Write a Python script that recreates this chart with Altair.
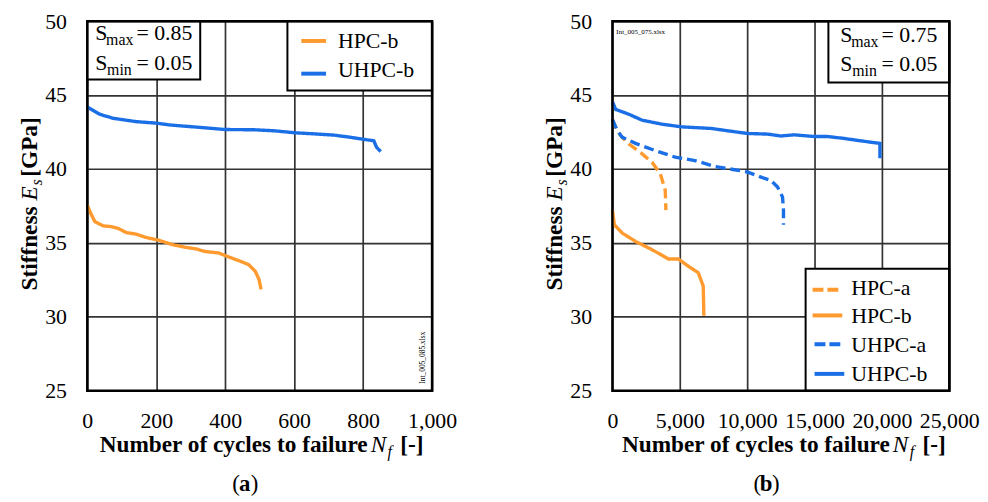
import altair as alt
import pandas as pd

# ---------------- data ----------------
SERIES = ["HPC-a", "HPC-b", "UHPC-a", "UHPC-b"]
ORANGE = "#FF9A2E"
BLUE = "#1A6FE6"

# Panel (a): S_max = 0.85
a_hpc_b_n = [0, 10, 22, 46, 70, 89, 113, 142, 170, 209, 247, 285, 314, 342, 381, 410, 444, 468, 487, 498, 504]
a_hpc_b_e = [37.56, 37.0, 36.44, 36.15, 36.1, 35.99, 35.7, 35.59, 35.37, 35.17, 34.88, 34.7, 34.6, 34.42,
             34.32, 34.05, 33.76, 33.53, 33.09, 32.53, 31.86]
a_uhpc_b_n = [0, 36, 75, 142, 201, 238, 333, 400, 486, 544, 601, 669, 716, 764, 803, 831, 839, 851]
a_uhpc_b_e = [44.19, 43.7, 43.43, 43.2, 43.1, 42.98, 42.8, 42.67, 42.65, 42.58, 42.45, 42.36, 42.29, 42.14,
              42.0, 41.91, 41.47, 41.18]

# Panel (b): S_max = 0.75
b_hpc_a_n = [0, 245, 613, 1225, 2206, 2941, 3554, 3922, 3971]
b_hpc_a_e = [43.36, 42.8, 42.25, 41.69, 41.02, 40.46, 39.68, 38.56, 37.22]
b_hpc_b_n = [0, 147, 735, 1716, 2941, 4167, 4902, 5637, 6373, 6740, 6789]
b_hpc_b_e = [37.22, 36.22, 35.66, 35.1, 34.54, 33.91, 33.91, 33.42, 32.98, 32.08, 30.07]
b_uhpc_a_n = [0, 368, 735, 1716, 3186, 4657, 6127, 7598, 9069, 10049, 11029, 11765, 12255, 12623, 12696, 12696]
b_uhpc_a_e = [43.36, 42.58, 42.14, 41.73, 41.24, 40.8, 40.57, 40.17, 39.95, 39.79, 39.45, 39.23, 38.78,
              38.11, 37.22, 36.22]
b_uhpc_b_n = [0, 245, 1225, 2206, 3676, 5147, 7353, 8578, 10049, 11520, 12500, 13480, 14951, 15931, 17157,
              18382, 19853, 19853]
b_uhpc_b_e = [44.55, 44.03, 43.7, 43.3, 43.03, 42.85, 42.74, 42.58, 42.4, 42.36, 42.23, 42.31, 42.2, 42.2,
              42.07, 41.91, 41.73, 40.73]

y_ticks = [25, 30, 35, 40, 45, 50]
a_x_ticks = [0, 200, 400, 600, 800, 1000]
b_x_ticks = [0, 5000, 10000, 15000, 20000, 25000]


def frame(pairs):
    rows = []
    for name, ns, es in pairs:
        for i, (n, e) in enumerate(zip(ns, es)):
            rows.append({"series": name, "n": n, "e": e, "i": i})
    return pd.DataFrame(rows)


df_a = frame([("HPC-b", a_hpc_b_n, a_hpc_b_e), ("UHPC-b", a_uhpc_b_n, a_uhpc_b_e)])
df_b = frame([("HPC-a", b_hpc_a_n, b_hpc_a_e), ("HPC-b", b_hpc_b_n, b_hpc_b_e),
              ("UHPC-a", b_uhpc_a_n, b_uhpc_a_e), ("UHPC-b", b_uhpc_b_n, b_uhpc_b_e)])

FONT = "Liberation Serif"
H = 373
one = pd.DataFrame({"k": [0]})
DASH = [10, 5]
TS = 23.5  # axis-title font size


def txt(s, x, y, size=22, weight="normal", style="normal", align="left", angle=0, baseline="alphabetic"):
    kw = dict(text=s, font=FONT, fontSize=size, fontWeight=weight, fontStyle=style,
              align=align, baseline=baseline, color="black")
    if angle:
        kw["angle"] = angle
    return alt.Chart(one).mark_text(**kw).encode(x=alt.value(x), y=alt.value(y))


def box(x1, x2, y1, y2):
    return alt.Chart(one).mark_rect(fill="white", stroke="black", strokeWidth=2).encode(
        x=alt.value(x1), x2=alt.value(x2), y=alt.value(y1), y2=alt.value(y2))


def sample(x1, x2, y, color, dashed):
    kw = dict(color=color, strokeWidth=4)
    if dashed:
        kw["strokeDash"] = [11, 4]
    return alt.Chart(one).mark_rule(**kw).encode(x=alt.value(x1), x2=alt.value(x2), y=alt.value(y))


def panel(df, xmax, xticks, W, smax, file_layer, legend_layers, sbox, cap_x, ytitle_x, xt):
    axis_common = dict(grid=True, gridColor="#333333", gridWidth=1.7, ticks=False, domain=False,
                       labelFont=FONT, labelFontSize=22, labelColor="black", title=None)
    lines = alt.Chart(df).mark_line(strokeWidth=3.4).encode(
        x=alt.X("n:Q", scale=alt.Scale(domain=[0, xmax], nice=False, zero=False),
                axis=alt.Axis(values=xticks, format=",.0f", labelPadding=20, labelFlush=False,
                              labelOverlap=False, labelBound=False, **axis_common)),
        y=alt.Y("e:Q", scale=alt.Scale(domain=[25, 50], nice=False, zero=False),
                axis=alt.Axis(values=y_ticks, labelPadding=21, **axis_common)),
        color=alt.Color("series:N", scale=alt.Scale(domain=SERIES, range=[ORANGE, ORANGE, BLUE, BLUE]),
                        legend=None),
        strokeDash=alt.StrokeDash("series:N", scale=alt.Scale(domain=SERIES,
                                  range=[DASH, [1, 0], DASH, [1, 0]]), legend=None),
        order=alt.Order("i:Q"),
    )
    border = alt.Chart(one).mark_rect(fillOpacity=0, stroke="black", strokeWidth=2.5).encode(
        x=alt.value(0), x2=alt.value(W), y=alt.value(0), y2=alt.value(H))

    sx1, sx2, sy2, s_left, sub_left, eq_right, bl1, bl2 = sbox
    s_layers = [
        box(sx1, sx2, 0, sy2),
        txt("S", s_left, bl1), txt("max", sub_left, bl1 + 5, size=16), txt("= " + smax, eq_right, bl1, align="right"),
        txt("S", s_left, bl2), txt("min", sub_left + 1, bl2 + 5, size=16), txt("= 0.05", eq_right, bl2, align="right"),
    ]

    # axis titles
    ty = ytitle_x
    ytitle = [
        txt("Stiffness", ty, 187, size=TS, weight="bold", align="right", angle=270),
        txt("E", ty, 181, size=TS, style="italic", angle=270),
        txt("s", ty + 5, 166, size=16, style="italic", angle=270),
        txt("[GPa]", ty, 157, size=TS, weight="bold", angle=270),
    ]
    xb = H + 62
    xtitle = [
        txt("Number of cycles to failure", xt, xb, size=TS, weight="bold", align="right"),
        txt("N", xt + 3, xb, size=TS, style="italic"),
        txt("f", xt + 20, xb + 5, size=16, style="italic"),
        txt("[-]", xt + 33, xb, size=TS, weight="bold"),
    ]
    cy = H + 101
    caption = [
        txt("(", cap_x - 5, cy, size=23, align="right"),
        txt("a" if smax == "0.85" else "b", cap_x, cy, size=23, weight="bold", align="center"),
        txt(")", cap_x + 6, cy, size=23, align="left"),
    ]
    return alt.layer(lines, *legend_layers, *s_layers, file_layer, border, *ytitle, *xtitle, *caption).properties(
        width=W, height=H)


# panel (a)
WA = 348
leg_a = [
    box(202, WA, 0, 70),
    sample(216, 241, 20, ORANGE, False), txt("HPC-b", 253, 27),
    sample(216, 241, 53, BLUE, False), txt("UHPC-b", 253, 56),
]
file_a = txt("Int_005_085.xlsx", 341, 366, size=7.5, angle=270)
pa = panel(df_a, 1000, a_x_ticks, WA, "0.85", file_a, leg_a,
           (0, 114, 59, 8, 19, 106, 19, 49), 159, -51, 283)

# panel (b)
WB = 340
leg_b = [
    box(195, WB, 250, H),
    sample(202, 232, 271, ORANGE, True), txt("HPC-a", 241, 276),
    sample(202, 232, 297, ORANGE, False), txt("HPC-b", 241, 305),
    sample(204, 234, 326, BLUE, True), txt("UHPC-a", 241, 334),
    sample(204, 234, 356, BLUE, False), txt("UHPC-b", 241, 363),
]
file_b = txt("Int_005_075.xlsx", 4, 13, size=7)
pb = panel(df_b, 25000, b_x_ticks, WB, "0.75", file_b, leg_b,
           (218, WB, 62, 230, 241, 328, 21, 50), 155, -51, 280)

chart = alt.hconcat(pa, pb, spacing=87).configure_view(strokeWidth=0).properties(
    padding={"left": 10, "top": 0, "right": 0, "bottom": 0})

chart.save("out.html", embed_options={"renderer": "svg", "actions": False})
